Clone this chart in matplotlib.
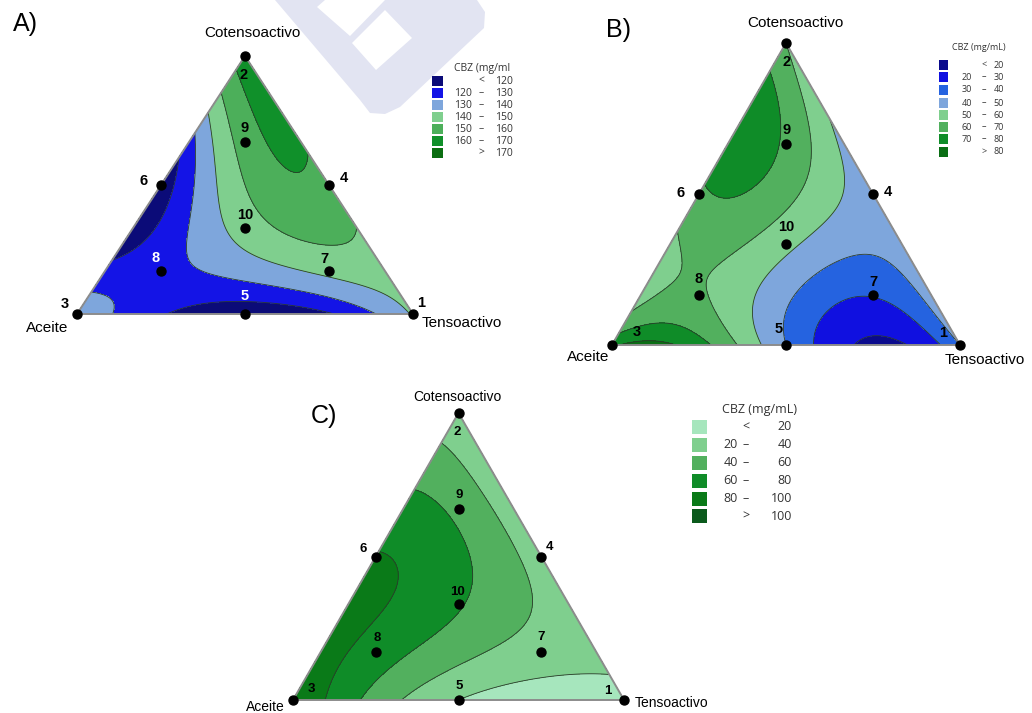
import numpy as np
import matplotlib.pyplot as plt
import matplotlib.tri as mtri
from matplotlib.patches import Polygon, Rectangle

W, H = 1032, 713

# puntos del diseño de mezclas (fracciones: tensoactivo, cotensoactivo, aceite)
puntos = ['1', '2', '3', '4', '5', '6', '7', '8', '9', '10']
tenso = [1, 0, 0, 1/2, 1/2, 0, 2/3, 1/6, 1/6, 1/3]
cotenso = [0, 1, 0, 1/2, 0, 1/2, 1/6, 1/6, 2/3, 1/3]

# composiciones (en cuartos) donde se lee la superficie de respuesta
lect_t = [0, 1, 2, 3, 4, 0, 1, 2, 3, 0, 1, 2, 0, 1, 0]
lect_c = [0, 0, 0, 0, 0, 1, 1, 1, 1, 2, 2, 2, 3, 3, 4]

cbz_a = [136, 121, 112, 119, 141, 117, 133, 146, 147, 113, 150, 156, 136, 163, 164]
cbz_b = [78, 74, 40, 18, 40, 55, 56, 39, 45, 68, 63, 45, 77, 50, 60]
cbz_c = [100, 52, 20, 8, 12, 87, 67, 45, 28, 81, 64, 30, 58, 28, 30]

niveles_a = [120, 130, 140, 150, 160, 170]
niveles_b = [20, 30, 40, 50, 60, 70, 80]
niveles_c = [20, 40, 60, 80, 100]

colores_a = ['#0b0b78', '#1414e6', '#7ea6dc', '#7fcf8e', '#4caf5a', '#10902a', '#0b6e12']
colores_b = ['#0a0a8c', '#1010e0', '#2563e0', '#7ea6dc', '#7fcf8e', '#52b05e', '#0f8c28', '#0a6e14']
colores_c = ['#a6e6bd', '#7fcf8e', '#52b05e', '#0f8c28', '#0a7a18', '#0b5a1c']

tit_a = 'CBZ (mg/ml'
tit_b = 'CBZ (mg/mL)'
tit_c = 'CBZ (mg/mL)'


def fx(px):
    return px / W


def fy(py):
    return 1 - py / H


def terminos(t, c):
    # modelo de Scheffe cuartico completo
    t, c = np.asarray(t, float), np.asarray(c, float)
    a = 1 - t - c
    return np.stack([t, c, a, t*c, t*a, c*a,
                     t*c*(t-c), t*a*(t-a), c*a*(c-a),
                     t*c*(t-c)**2, t*a*(t-a)**2, c*a*(c-a)**2,
                     t*t*c*a, t*c*c*a, t*c*a*a], axis=-1)


n = 160
ii, jj = np.meshgrid(np.arange(n+1), np.arange(n+1))
ok = ii + jj <= n
gt = ii[ok] / n
gc = jj[ok] / n
tri = mtri.Triangulation(gt + gc/2, gc)
lt = np.array(lect_t) / 4
lc = np.array(lect_c) / 4

fig = plt.figure(figsize=(W/100, H/100), dpi=100)
plt.rcParams['font.family'] = ['Liberation Sans', 'DejaVu Sans']

# marca de agua
fig.patches.append(Polygon([(fx(275), fy(0)), (fx(477), fy(0)), (fx(485), fy(12)), (fx(484), fy(28)),
                            (fx(400), fy(107)), (fx(385), fy(114)), (fx(370), fy(113)), (fx(360), fy(100))],
                           closed=True, transform=fig.transFigure, fc='#e2e4f2', ec='none', zorder=0))
fig.patches.append(Polygon([(fx(317), fy(7)), (fx(325), fy(0)), (fx(385), fy(0)), (fx(350), fy(36))],
                           closed=True, transform=fig.transFigure, fc='white', ec='none', zorder=0))
fig.patches.append(Polygon([(fx(352), fy(43)), (fx(385), fy(10)), (fx(412), fy(38)), (fx(376), fy(70))],
                           closed=True, transform=fig.transFigure, fc='white', ec='none', zorder=0))


def panel(caja, z, niveles, colores, desp, blancos, fs_num):
    l, t, r, b = caja
    ax = fig.add_axes([fx(l), fy(b), fx(r) - fx(l), (b - t) / H])
    ax.set_xlim(0, 1)
    ax.set_ylim(0, 1)
    ax.axis('off')
    coef = np.linalg.solve(terminos(lt, lc), np.array(z, float))
    zz = terminos(gt, gc) @ coef
    lv = [min(zz.min(), niveles[0]) - 1] + list(niveles) + [max(zz.max(), niveles[-1]) + 1]
    ax.tricontourf(tri, zz, levels=lv, colors=colores)
    ax.tricontour(tri, zz, levels=niveles, colors='#2b3a2b', linewidths=0.6)
    ax.plot([0, 1, 0.5, 0], [0, 0, 1, 0], color='#8c8c8c', lw=1.4, clip_on=False)
    px = np.array(tenso) + np.array(cotenso) / 2
    py = np.array(cotenso)
    ax.scatter(px, py, s=42, color='black', zorder=5, clip_on=False)
    for k, lab in enumerate(puntos):
        ax.annotate(lab, (px[k], py[k]), xytext=(desp[k][0]*0.72, desp[k][1]*0.72),
                    textcoords='offset points', ha='center', va='center',
                    fontsize=fs_num, fontweight='bold',
                    color='white' if lab in blancos else 'black', zorder=6)
    return ax


def leyenda(x_sw, ys, sw, titulo, tit_xy, niveles, colores, x_lo, x_dash, x_hi, fs):
    fig.text(fx(tit_xy[0]), fy(tit_xy[1]), titulo, fontsize=fs, ha='center', va='center',
             family=['Open Sans', 'DejaVu Sans'], color='#333333')
    for k, col in enumerate(colores):
        y = ys[k]
        fig.patches.append(Rectangle((fx(x_sw), fy(y + sw[1]/2)), sw[0]/W, sw[1]/H,
                                     transform=fig.transFigure, fc=col, ec='none'))
        kw = dict(fontsize=fs, va='center', family=['Open Sans', 'DejaVu Sans'], color='#333333')
        if k == 0:
            fig.text(fx(x_dash), fy(y), '<', ha='center', **kw)
            fig.text(fx(x_hi), fy(y), str(niveles[0]), ha='right', **kw)
        elif k == len(colores) - 1:
            fig.text(fx(x_dash), fy(y), '>', ha='center', **kw)
            fig.text(fx(x_hi), fy(y), str(niveles[-1]), ha='right', **kw)
        else:
            fig.text(fx(x_lo), fy(y), str(niveles[k-1]), ha='right', **kw)
            fig.text(fx(x_dash), fy(y), '\u2013', ha='center', **kw)
            fig.text(fx(x_hi), fy(y), str(niveles[k]), ha='right', **kw)


# A)
desp_a = [(8, 11), (-1, -19), (-12, 10), (15, 7), (0, 18), (-17, 4), (-5, 12), (-5, 13), (0, 14), (0, 13)]
panel((77, 56, 413, 314), cbz_a, niveles_a, colores_a, desp_a, ['5', '8'], 10.5)
fig.text(fx(25), fy(24), 'A)', fontsize=18, ha='center', va='center')
fig.text(fx(252), fy(33), 'Cotensoactivo', fontsize=11, ha='center', va='center')
fig.text(fx(47), fy(328), 'Aceite', fontsize=11, ha='center', va='center')
fig.text(fx(422), fy(323), 'Tensoactivo', fontsize=11, ha='left', va='center')
leyenda(432, [81, 93, 105, 117, 129, 141, 153], (11, 10), tit_a, (482, 68),
        niveles_a, colores_a, 472, 481, 513, 7.5)

# B)
desp_b = [(-17, 12), (1, -19), (25, 13), (15, 2), (-7, 16), (-18, 1), (0, 13), (0, 16), (1, 14), (0, 17)]
panel((612, 43, 960, 345), cbz_b, niveles_b, colores_b, desp_b, [], 10.5)
fig.text(fx(618), fy(30), 'B)', fontsize=18, ha='center', va='center')
fig.text(fx(795), fy(23), 'Cotensoactivo', fontsize=11, ha='center', va='center')
fig.text(fx(588), fy(357), 'Aceite', fontsize=11, ha='center', va='center')
fig.text(fx(985), fy(360), 'Tensoactivo', fontsize=11, ha='center', va='center')
leyenda(939, [65, 77, 90, 103, 115, 127, 139, 152], (9, 9), tit_b, (979, 47),
        niveles_b, colores_b, 972, 984, 1004, 6.5)

# C)
desp_c = [(-16, 9), (-1, -19), (18, 11), (8, 10), (1, 14), (-13, 8), (0, 15), (1, 14), (1, 14), (-1, 12)]
panel((293, 413, 624, 700), cbz_c, niveles_c, colores_c, desp_c, [], 9.5)
fig.text(fx(324), fy(416), 'C)', fontsize=18, ha='center', va='center')
fig.text(fx(457), fy(397), 'Cotensoactivo', fontsize=10, ha='center', va='center')
fig.text(fx(265), fy(707), 'Aceite', fontsize=10, ha='center', va='center')
fig.text(fx(672), fy(703), 'Tensoactivo', fontsize=10, ha='center', va='center')
leyenda(692, [427, 445, 463, 481, 499, 516], (15, 14), tit_c, (759, 410),
        niveles_c, colores_c, 738, 746, 792, 9)

fig.savefig('out.png', dpi=100)
